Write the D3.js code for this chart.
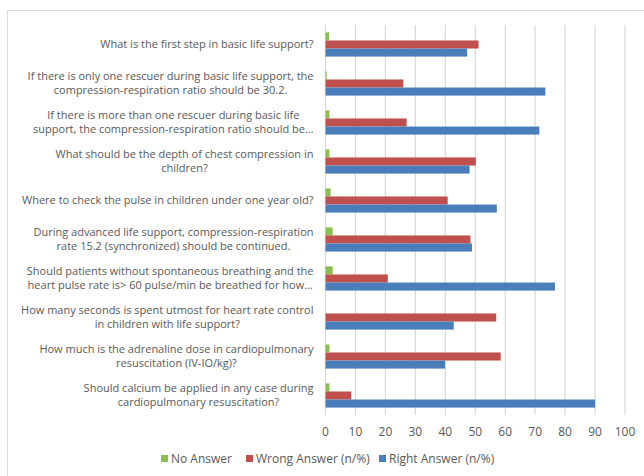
<!DOCTYPE html>
<html>
<head>
<meta charset="utf-8">
<script src="https://cdn.jsdelivr.net/npm/d3@7"></script>
<style>
  body { margin: 0; background: #fff; }
  text { font-family: "Open Sans", "Liberation Sans", sans-serif; fill: #595959; }
</style>
</head>
<body>
<div id="chart"></div>
<script>
    // questions, top to bottom (lines of each label)
    const questions = [
        ["What is the first step in basic life support?"],
        ["If there is only one rescuer during basic life support, the", "compression-respiration ratio should be 30.2."],
        ["If there is more than one rescuer during basic life", "support, the compression-respiration ratio should be…"],
        ["What should be the depth of chest compression in", "children?"],
        ["Where to check the pulse in children under one year old?"],
        ["During advanced life support, compression-respiration", "rate 15.2 (synchronized) should be continued."],
        ["Should patients without spontaneous breathing and the", "heart pulse rate is> 60 pulse/min  be breathed for how…"],
        ["How many seconds is spent utmost for heart rate control", "in children with life support?"],
        ["How much is the adrenaline dose in cardiopulmonary", "resuscitation (IV-IO/kg)?"],
        ["Should calcium be applied in any case during", "cardiopulmonary resuscitation?"]
    ];
    const series_names = ["No Answer", "Wrong Answer (n/%)", "Right Answer (n/%)"];
    const no_answer = [1.2, 0.4, 1.3, 1.3, 1.7, 2.4, 2.4, 0, 1.3, 1.3];
    const wrong_answer = [51.1, 26, 27.1, 50.2, 40.8, 48.4, 20.8, 57, 58.5, 8.6];
    const right_answer = [47.3, 73.4, 71.4, 48.1, 57.2, 48.9, 76.6, 42.8, 39.9, 90];
    const x_ticks = [0, 10, 20, 30, 40, 50, 60, 70, 80, 90, 100];
    const colors = ["#8cbd4f", "#c0504d", "#4a7ebb"];

    const width = 644, height = 476;
    const margin = {top: 25, right: 19, bottom: 61, left: 325.5};

    const svg = d3.select("#chart")
        .append("svg")
        .attr("width", width)
        .attr("height", height);

    // outer chart border
    svg.append("rect")
        .attr("x", 7.5).attr("y", 10.5)
        .attr("width", 700).attr("height", 500)
        .attr("fill", "none")
        .attr("stroke", "#d9d9d9");

    const g = svg.append("g")
        .attr("transform", "translate(" + margin.left + "," + margin.top + ")");

    const w = width - margin.left - margin.right,
        h = height - margin.top - margin.bottom;

    const xScale = d3.scaleLinear().domain([0, 100]).range([0, w]);
    const yScale = d3.scaleBand().domain(d3.range(questions.length)).range([0, h]).paddingInner(0.38).paddingOuter(0.19);
    const inner = d3.scaleBand().domain(d3.range(3)).range([0, yScale.bandwidth()]);

    // gridlines
    g.selectAll(".grid")
        .data(x_ticks)
        .join("line")
        .attr("x1", d => xScale(d)).attr("x2", d => xScale(d))
        .attr("y1", 0).attr("y2", h)
        .attr("stroke", "#d9d9d9")
        .attr("stroke-width", 1.2);

    const all = [no_answer, wrong_answer, right_answer];
    const rows = questions.map((q, i) => ({i: i, values: all.map(s => s[i])}));

    g.selectAll(".group")
        .data(rows)
        .join("g")
        .attr("transform", d => "translate(0," + yScale(d.i) + ")")
        .selectAll("rect")
        .data(d => d.values)
        .join("rect")
        .attr("x", 0)
        .attr("y", (d, j) => inner(j))
        .attr("width", d => xScale(d))
        .attr("height", inner.bandwidth())
        .attr("fill", (d, j) => colors[j]);

    // x axis labels
    g.selectAll(".xtick")
        .data(x_ticks)
        .join("text")
        .attr("x", d => xScale(d))
        .attr("y", h + 21)
        .attr("text-anchor", "middle")
        .style("font-size", "12px")
        .text(d => d);

    // category labels
    const lineH = 14;
    const labels = g.selectAll(".ylab")
        .data(questions)
        .join("text")
        .attr("text-anchor", "end")
        .style("font-size", "11px")
        .attr("transform", (d, i) => "translate(-12," + (yScale(i) + yScale.bandwidth() / 2) + ")");
    labels.selectAll("tspan")
        .data(d => d.map((t, k) => ({t: t, k: k, n: d.length})))
        .join("tspan")
        .attr("x", d => d.n === 1 ? 0 : (d.k === 1 && d.t.length < 50 ? null : 0))
        .attr("y", d => (d.k - (d.n - 1) / 2) * lineH)
        .attr("dy", "0.35em")
        .text(d => d.t);

    // center short second lines under the first line
    labels.each(function () {
        const spans = d3.select(this).selectAll("tspan").nodes();
        if (spans.length === 2) {
            const w0 = spans[0].getComputedTextLength();
            const w1 = spans[1].getComputedTextLength();
            const wm = Math.max(w0, w1);
            spans.forEach((s, k) => {
                const wk = k === 0 ? w0 : w1;
                d3.select(s).attr("x", -(wm - wk) / 2);
            });
        }
    });

    // legend
    const legend_x = [161, 246, 379];
    const legend = svg.selectAll(".legend")
        .data(series_names)
        .join("g")
        .attr("transform", (d, i) => "translate(" + legend_x[i] + ",459)");
    legend.append("rect")
        .attr("x", 0).attr("y", -4)
        .attr("width", 7).attr("height", 7)
        .attr("fill", (d, i) => colors[i]);
    legend.append("text")
        .attr("x", 10)
        .attr("dy", "0.35em")
        .style("font-size", "12px")
        .text(d => d);
</script>
</body>
</html>
